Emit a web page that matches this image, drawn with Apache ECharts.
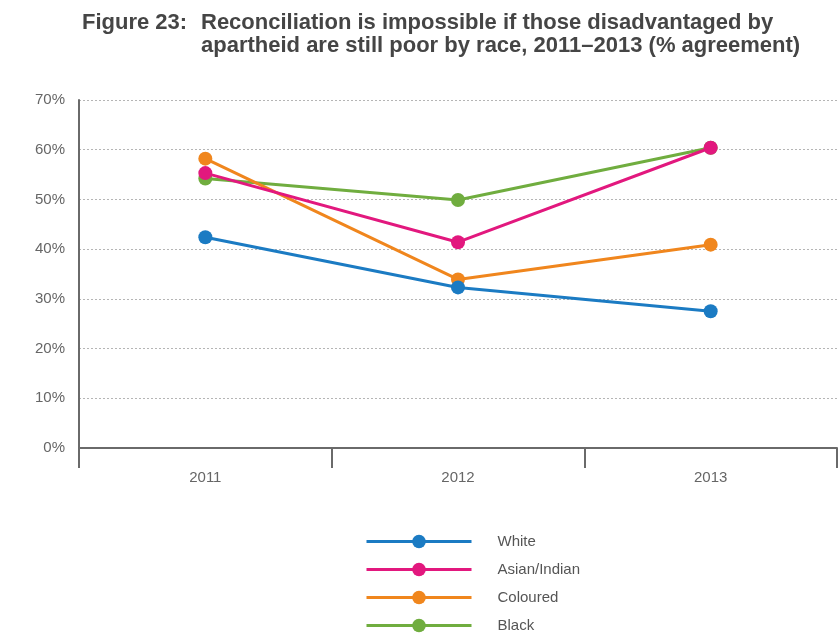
<!DOCTYPE html>
<html>
<head>
<meta charset="utf-8">
<script src="https://cdn.jsdelivr.net/npm/echarts@6/dist/echarts.min.js"></script>
<style>
  html, body { margin: 0; padding: 0; background: #fff; }
  #chart { width: 839px; height: 637px; }
</style>
</head>
<body>
<div id="chart"></div>
<script>
// data
var years = ['2011', '2012', '2013'];
var yTicks = [0, 10, 20, 30, 40, 50, 60, 70];
var white = [42.4, 32.3, 27.5];
var asianIndian = [55.3, 41.4, 60.4];
var coloured = [58.2, 33.9, 40.9];
var black = [54.2, 49.9, 60.4];

var names = ['White', 'Asian/Indian', 'Coloured', 'Black'];
var colors = ['#1b7bc3', '#e2187e', '#f0861d', '#70ad3f'];
var values = [white, asianIndian, coloured, black];

var chart = echarts.init(document.getElementById('chart'));

var series = names.map(function (n, i) {
  return {
    name: n,
    type: 'line',
    data: values[i],
    symbol: 'circle',
    symbolSize: 14,
    z: 10 - i,
    itemStyle: { color: colors[i] },
    lineStyle: { color: colors[i], width: 3 }
  };
});

chart.setOption({
  animation: false,
  textStyle: { fontFamily: 'Liberation Sans, Arial, sans-serif' },
  title: [{
    text: 'Figure 23:',
    left: 77,
    top: 6,
    textStyle: { fontSize: 22, fontWeight: 'bold', color: '#454545', lineHeight: 23 }
  }, {
    text: 'Reconciliation is impossible if those disadvantaged by\napartheid are still poor by race, 2011\u20132013 (% agreement)',
    left: 196,
    top: 6,
    textStyle: { fontSize: 22, fontWeight: 'bold', color: '#454545', lineHeight: 23 }
  }],
  legend: {
    orient: 'vertical',
    left: 360,
    top: 529,
    height: 108,
    itemWidth: 105,
    itemHeight: 17,
    itemGap: 13,
    data: names,
    lineStyle: { width: 3 },
    textStyle: { fontSize: 15, color: '#555', padding: [0, 0, 0, 21] }
  },
  grid: { left: 79, right: 2, top: 100, bottom: 189 },
  xAxis: {
    type: 'category',
    data: years,
    boundaryGap: true,
    axisLine: { lineStyle: { color: '#6a6a6a', width: 2 } },
    axisTick: { show: true, length: 20, lineStyle: { color: '#6a6a6a', width: 2 } },
    axisLabel: { fontSize: 15, color: '#666', margin: 22 }
  },
  yAxis: {
    type: 'value',
    min: yTicks[0],
    max: yTicks[yTicks.length - 1],
    interval: 10,
    axisLine: { show: true, lineStyle: { color: '#6a6a6a', width: 2 } },
    axisTick: { show: false },
    axisLabel: { fontSize: 15, color: '#666', margin: 14, formatter: '{value}%' },
    splitLine: { lineStyle: { color: '#b5b5b5', type: [2, 2], width: 1 } }
  },
  series: series
});
</script>
</body>
</html>
